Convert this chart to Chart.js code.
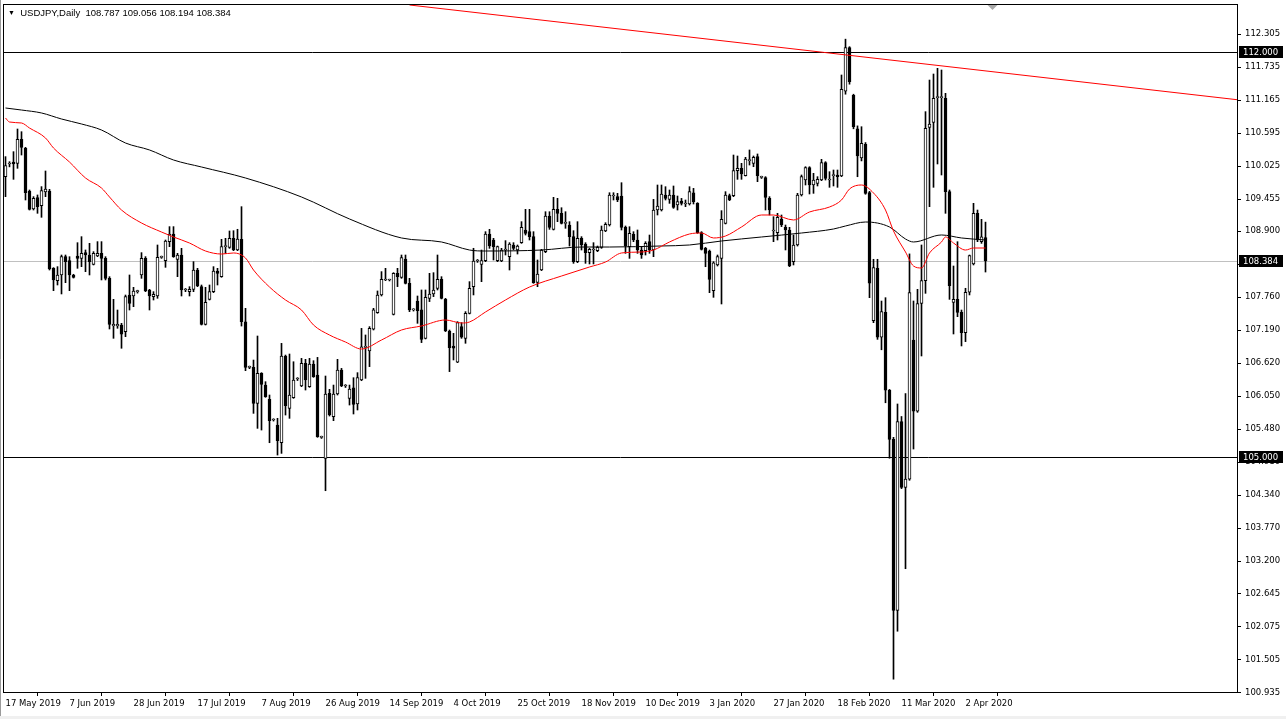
<!DOCTYPE html>
<html>
<head>
<meta charset="utf-8">
<title>USDJPY Daily</title>
<script src="https://cdn.jsdelivr.net/npm/chart.js@4.4.1/dist/chart.umd.min.js"></script>
<style>
  html, body { margin: 0; padding: 0; background: #fff; overflow: hidden; }
  #wrap { position: relative; width: 1286px; height: 719px; }
  #symbol { position: absolute; left: 8px; top: 7px; font: 9.5px "Liberation Sans", Arial, sans-serif; color: #000; white-space: pre; }
  #symbol .tri { font-size: 7px; position: relative; top: -1px; }
</style>
</head>
<body>
<div id="wrap">
  <canvas id="priceChart"></canvas>
  <div id="symbol"><span class="tri">▼</span>  USDJPY,Daily  108.787 109.056 108.194 108.384</div>
</div>
<script>
// Daily candles (bar 0 = 17 May 2019)
const openPrices = [
  109.841,110.060,110.094,110.071,110.486,110.331,109.594,109.283,109.478,109.340,
  109.576,109.594,108.258,108.045,108.143,108.459,108.390,108.143,108.471,108.431,
  108.529,108.488,108.327,108.471,108.517,108.431,108.085,107.262,107.262,107.279,
  107.164,107.797,107.780,107.855,108.143,108.431,107.884,107.769,107.780,108.448,
  108.390,108.718,108.851,108.413,108.488,107.884,107.855,107.895,108.229,107.941,
  107.291,107.723,107.855,108.212,108.114,108.632,108.620,108.776,108.575,108.759,
  107.336,106.548,106.548,105.926,106.444,106.242,105.995,105.638,105.552,105.247,
  106.743,105.839,106.024,106.346,106.225,106.617,106.214,106.605,106.415,105.339,
  104.976,106.099,105.696,106.087,106.502,106.225,106.012,106.196,105.914,106.329,
  106.894,106.831,107.205,107.493,107.798,108.057,108.057,107.464,108.172,108.103,
  108.419,107.999,107.539,107.694,107.539,107.049,107.740,107.815,107.913,108.068,
  107.723,107.176,106.917,106.635,107.251,107.049,107.481,107.942,108.385,108.326,
  108.390,108.851,108.747,108.390,108.384,108.574,108.459,108.661,108.574,108.701,
  108.920,108.891,108.805,108.016,108.229,108.546,109.162,108.931,109.277,109.208,
  109.035,109.006,108.805,108.373,108.776,108.678,108.528,108.574,108.563,108.620,
  108.902,109.006,109.507,109.495,109.507,108.966,108.632,108.845,108.747,108.574,
  108.563,108.718,108.574,109.265,109.265,109.524,109.449,109.524,109.351,109.420,
  109.369,109.369,109.564,109.380,108.874,108.603,108.557,107.872,108.315,108.430,
  109.035,109.513,109.513,109.944,109.985,109.858,110.117,110.071,110.186,109.829,
  109.824,109.467,108.903,108.874,109.110,108.966,108.920,108.373,108.661,109.524,
  109.783,109.996,109.697,109.726,109.783,110.083,109.783,109.858,109.870,109.852,
  111.316,112.072,111.244,110.668,110.164,110.401,109.566,107.355,108.256,107.067,
  107.499,106.152,105.303,102.350,105.612,104.474,104.618,107.017,105.792,107.653,
  108.045,110.693,110.779,111.205,111.205,111.194,109.582,107.671,107.722,107.498,
  107.147,107.844,108.333,109.208,108.718,108.787
];
const highPrices = [
  110.187,110.100,110.273,110.664,110.618,110.348,109.611,109.496,109.525,109.669,
  109.939,109.622,108.270,108.287,108.488,108.488,108.459,108.155,108.701,108.805,
  108.575,108.690,108.546,108.719,108.719,108.459,108.114,107.723,107.538,107.308,
  107.797,108.143,107.930,107.880,108.529,108.460,107.895,107.855,108.661,108.470,
  108.747,108.978,108.978,108.517,108.603,107.910,107.941,108.373,108.258,107.970,
  107.930,107.970,108.287,108.258,108.759,108.776,108.903,108.908,108.932,109.323,
  107.567,106.570,106.674,107.089,106.456,106.300,106.070,105.660,105.667,106.962,
  106.760,106.778,106.645,106.370,106.703,106.686,106.703,106.663,106.720,105.360,
  106.398,106.168,106.242,106.686,106.530,106.250,106.242,106.369,106.456,107.221,
  107.107,107.251,107.567,107.867,108.201,108.258,108.070,108.183,108.258,108.488,
  108.488,108.085,107.560,107.780,107.884,107.884,108.172,108.183,108.488,108.114,
  107.740,107.193,107.135,107.337,107.320,107.510,108.028,108.604,108.410,108.574,
  108.891,108.931,108.776,108.643,108.603,108.736,108.701,108.701,108.661,109.064,
  109.277,109.277,108.891,108.402,108.586,109.236,109.236,109.484,109.467,109.305,
  109.236,109.064,108.908,109.064,108.805,108.701,108.603,108.701,108.643,108.989,
  109.046,109.564,109.564,109.553,109.737,108.989,108.977,108.891,108.920,108.632,
  108.718,108.833,109.449,109.697,109.697,109.668,109.611,109.680,109.507,109.466,
  109.438,109.668,109.639,109.392,108.891,108.620,108.574,108.373,108.488,109.254,
  109.582,109.541,110.215,110.198,110.071,110.175,110.302,110.198,110.233,109.850,
  109.841,109.496,109.150,109.208,109.179,109.006,108.966,108.834,109.553,109.870,
  110.013,110.013,109.899,109.841,110.140,110.100,109.927,109.956,109.956,111.597,
  112.216,112.086,111.265,110.718,110.704,110.430,109.587,108.414,108.414,107.693,
  107.751,106.167,105.339,105.915,105.699,106.095,108.507,107.694,107.895,108.661,
  110.964,111.510,111.614,111.712,111.683,111.280,109.611,108.298,108.718,107.538,
  107.913,108.488,109.381,109.265,109.104,109.056
];
const lowPrices = [
  109.496,110.010,109.795,109.985,110.215,109.438,109.265,109.265,109.208,109.139,
  109.496,108.229,107.872,107.970,107.815,108.010,107.872,108.090,108.258,108.287,
  108.200,108.143,108.316,108.459,108.057,108.057,107.210,107.049,107.222,106.877,
  107.078,107.538,107.596,107.830,108.085,107.855,107.538,107.711,107.740,108.430,
  108.275,108.632,108.448,108.114,107.780,107.855,107.780,107.855,107.941,107.279,
  107.279,107.711,107.838,107.970,108.103,108.517,108.603,108.563,108.563,107.261,
  106.490,106.525,105.753,105.494,105.465,106.030,105.246,105.620,105.033,105.062,
  105.724,105.667,106.012,106.320,106.214,106.156,106.202,106.375,105.339,105.320,
  104.417,105.707,105.627,106.070,106.214,106.200,105.897,105.742,105.811,106.317,
  106.358,106.560,107.193,107.481,107.780,108.045,108.040,107.452,107.942,108.085,
  107.988,107.510,107.520,107.308,106.975,107.038,107.683,107.769,107.884,107.729,
  107.165,106.474,106.675,106.629,107.049,106.963,107.470,107.798,108.360,108.027,
  108.373,108.603,108.402,108.373,108.373,108.488,108.229,108.574,108.505,108.689,
  108.833,108.747,107.999,107.941,108.218,108.528,108.931,108.920,109.064,109.024,
  108.949,108.643,108.344,108.356,108.574,108.344,108.333,108.333,108.546,108.603,
  108.891,108.989,109.438,109.409,108.920,108.517,108.430,108.718,108.517,108.430,
  108.488,108.517,108.459,109.179,109.248,109.438,109.380,109.294,109.265,109.351,
  109.323,109.351,109.369,108.862,108.574,108.286,107.837,107.757,108.298,107.642,
  109.024,109.426,109.496,109.795,109.795,109.852,110.042,110.013,109.755,109.810,
  109.265,109.179,108.718,108.747,108.978,108.575,108.287,108.316,108.643,109.507,
  109.697,109.542,109.553,109.680,109.772,109.783,109.657,109.680,109.657,109.841,
  111.265,111.438,110.668,109.840,110.113,109.537,107.751,107.319,107.031,106.851,
  105.936,104.978,101.162,101.990,104.453,103.070,104.597,105.137,105.771,106.744,
  107.826,109.323,109.657,110.060,109.870,109.208,107.722,107.124,107.423,106.917,
  106.992,107.798,108.316,108.718,108.689,108.194
];
const closePrices = [
  110.031,110.060,110.060,110.486,110.348,109.565,109.277,109.467,109.323,109.599,
  109.628,108.247,108.057,108.143,108.459,108.373,108.143,108.103,108.431,108.517,
  108.488,108.373,108.517,108.517,108.431,108.085,107.291,107.291,107.291,107.120,
  107.769,107.653,107.867,107.855,108.431,107.867,107.780,107.809,108.448,108.448,
  108.730,108.851,108.460,108.488,107.884,107.884,107.895,108.229,107.953,107.291,
  107.671,107.855,108.212,108.172,108.632,108.632,108.776,108.575,108.765,107.336,
  106.548,106.548,105.926,106.444,106.254,106.041,105.626,105.638,105.281,106.743,
  105.885,106.070,106.329,106.346,106.617,106.329,106.605,106.386,105.350,105.339,
  106.087,105.724,106.087,106.502,106.225,106.225,106.173,105.909,106.369,106.904,
  106.894,107.222,107.539,107.798,108.068,108.057,108.057,108.172,108.114,108.442,
  107.999,107.539,107.539,107.527,107.032,107.757,107.815,107.884,108.068,107.740,
  107.176,106.888,106.877,107.320,107.067,107.481,107.913,108.385,108.385,108.390,
  108.851,108.643,108.632,108.632,108.574,108.574,108.678,108.603,108.643,108.966,
  108.862,108.805,108.010,108.160,108.574,109.162,108.966,109.277,109.208,109.035,
  109.035,108.805,108.373,108.776,108.661,108.528,108.586,108.574,108.620,108.920,
  109.017,109.524,109.507,109.438,108.966,108.643,108.862,108.747,108.574,108.488,
  108.689,108.574,109.265,109.334,109.541,109.467,109.524,109.311,109.409,109.380,
  109.369,109.582,109.409,108.874,108.586,108.517,108.068,108.355,108.459,109.104,
  109.524,109.438,109.944,109.985,109.887,110.146,110.117,110.175,109.858,109.829,
  109.484,109.265,108.903,109.139,109.006,108.920,108.298,108.661,109.524,109.841,
  109.996,109.697,109.783,109.795,110.083,109.812,109.783,109.858,109.841,111.349,
  112.072,111.481,110.704,110.200,110.416,109.551,108.003,108.270,107.067,107.513,
  106.152,105.303,102.350,105.612,104.474,104.618,107.837,105.792,107.648,108.045,
  110.676,110.751,111.194,111.205,111.205,109.582,107.958,107.722,107.498,107.147,
  107.844,108.477,109.208,108.747,108.804,108.384
];

// Moving averages, sampled along the drawn curves (bar index, price)
const ma50Idx = [0,1,4,6,10,12,16,20,24,26,29,34,39,42,46,50,54,57,60,62,66,70,74,77,81,85,89,94,99,104,
  110,114,116,120,125,131,139,146,150,154,159,162,166,171,174,177,180,184,189,192,197,201,206,209,211,214,
  217,220,222,225,227,229,231,234,235,237,240,242,245];
const ma50Vals = [110.854,110.785,110.768,110.681,110.509,110.336,110.094,109.818,109.645,109.490,
  109.265,109.041,108.885,108.799,108.695,108.557,108.505,108.523,108.436,108.229,
  107.935,107.711,107.538,107.279,107.106,106.985,106.864,107.020,107.193,107.262,
  107.366,107.314,107.331,107.504,107.711,107.935,108.125,108.281,108.367,108.523,
  108.540,108.574,108.713,108.851,108.868,108.782,108.816,108.972,109.179,109.179,
  109.093,109.231,109.317,109.438,109.628,109.697,109.559,109.265,108.903,108.540,
  108.298,108.264,108.523,108.713,108.799,108.695,108.574,108.609,108.609];
const ma200Idx = [0,4,9,14,19,24,30,36,42,49,60,74,86,99,109,116,120,134,144,151,
  164,171,179,189,199,207,210,215,221,225,227,234,239,245];
const ma200Vals = [111.027,110.992,110.941,110.837,110.751,110.647,110.422,110.302,110.129,110.008,
  109.818,109.490,109.110,108.782,108.713,108.574,108.557,108.574,108.626,108.626,
  108.644,108.661,108.730,108.799,108.868,108.937,108.989,109.058,108.972,108.764,
  108.713,108.834,108.782,108.747];

// Hand-drawn objects
const trendIdx = [101, 307.9];
const trendVals = [112.806, 111.170];
const keyLevels = [112.000, 105.000];
const lastPrice = 108.384;

// Axis labels
const dateIdx = [0,16,32,48,64,80,96,112,128,144,160,176,192,208,224,240];
const dateText = ['17 May 2019','7 Jun 2019','28 Jun 2019','17 Jul 2019','7 Aug 2019','26 Aug 2019',
  '14 Sep 2019','4 Oct 2019','25 Oct 2019','18 Nov 2019','10 Dec 2019','3 Jan 2020',
  '27 Jan 2020','18 Feb 2020','11 Mar 2020','2 Apr 2020'];
const priceTicks = [112.305,111.735,111.165,110.595,110.025,109.455,108.900,108.330,107.760,107.190,
  106.620,106.050,105.480,104.910,104.340,103.770,103.200,102.645,102.075,101.505,100.935];

const axisFont = { family: 'DejaVu Sans', size: 8.5 };

// Build datasets from the arrays above
const wickData = closePrices.map((c, i) => ({ x: i, y: [lowPrices[i], highPrices[i]] }));
const bodyData = closePrices.map((c, i) => ({ x: i, y: [openPrices[i], c] }));
const bodyFill = closePrices.map((c, i) => c >= openPrices[i] ? '#ffffff' : '#000000');
const toPoints = (xs, ys) => xs.map((x, k) => ({ x: x, y: ys[k] }));

// MT4-style extras: level lines, frame, axis price boxes
const mtOverlay = {
  id: 'mtOverlay',
  beforeDatasetsDraw(chart) {
    const { ctx, chartArea: a, scales: { y } } = chart;
    ctx.save();
    ctx.lineWidth = 1;
    const hline = (v, color) => {
      const py = Math.round(y.getPixelForValue(v)) + 0.5;
      ctx.strokeStyle = color;
      ctx.beginPath();
      ctx.moveTo(a.left, py);
      ctx.lineTo(a.right, py);
      ctx.stroke();
    };
    hline(lastPrice, '#c0c0c0');
    keyLevels.forEach(v => hline(v, '#000000'));
    ctx.restore();
  },
  afterDraw(chart) {
    const { ctx, chartArea: a, scales: { x, y } } = chart;
    ctx.save();
    // plot frame
    ctx.strokeStyle = '#000';
    ctx.lineWidth = 1;
    ctx.strokeRect(a.left - 0.5, a.top - 0.5, a.right - a.left + 1, a.bottom - a.top + 1);
    // window edges
    ctx.strokeStyle = '#9a9a9a';
    ctx.beginPath();
    ctx.moveTo(0.5, 0); ctx.lineTo(0.5, chart.height);
    ctx.stroke();
    ctx.fillStyle = '#f0f0f0';
    ctx.fillRect(0, chart.height - 3, chart.width, 3);
    // price boxes on the axis
    ctx.font = '8.5px "DejaVu Sans"';
    ctx.textBaseline = 'middle';
    ctx.textAlign = 'left';
    keyLevels.concat([lastPrice]).forEach(v => {
      const py = Math.round(y.getPixelForValue(v));
      ctx.fillStyle = '#000';
      ctx.fillRect(a.right + 2, py - 6, 44, 12);
      ctx.fillStyle = '#fff';
      ctx.fillText(v.toFixed(3), a.right + 6, py + 0.5);
    });
    // chart shift marker
    const sx = Math.round(x.getPixelForValue(closePrices.length + 0.6)) + 0.5;
    ctx.fillStyle = '#a8a8a8';
    ctx.beginPath();
    ctx.moveTo(sx - 5, a.top);
    ctx.lineTo(sx + 5, a.top);
    ctx.lineTo(sx, a.top + 5);
    ctx.closePath();
    ctx.fill();
    ctx.restore();
  }
};

new Chart(document.getElementById('priceChart'), {
  type: 'bar',
  data: {
    datasets: [
      {
        type: 'line', label: 'Trend', data: toPoints(trendIdx, trendVals),
        borderColor: '#ff0000', borderWidth: 1, pointRadius: 0, order: -2
      },
      {
        type: 'line', label: 'MA 50', data: toPoints(ma50Idx, ma50Vals),
        borderColor: '#ff0000', borderWidth: 1, pointRadius: 0,
        cubicInterpolationMode: 'monotone', order: -1
      },
      {
        type: 'line', label: 'MA 200', data: toPoints(ma200Idx, ma200Vals),
        borderColor: '#000000', borderWidth: 1, pointRadius: 0,
        cubicInterpolationMode: 'monotone', order: -1
      },
      {
        label: 'Bodies', data: bodyData, backgroundColor: bodyFill,
        borderColor: '#000', borderWidth: 1, borderSkipped: false,
        barThickness: 3, minBarLength: 1, grouped: false, order: 0
      },
      {
        label: 'Wicks', data: wickData, backgroundColor: '#000',
        borderWidth: 0, barThickness: 1, grouped: false, order: 1
      }
    ]
  },
  options: {
    responsive: true,
    maintainAspectRatio: false,
    animation: false,
    devicePixelRatio: 1,
    layout: { padding: { left: 4, top: 5, right: 0, bottom: 0 }, autoPadding: false },
    plugins: { legend: { display: false }, tooltip: { enabled: false } },
    scales: {
      x: {
        type: 'linear', position: 'bottom', min: -0.375, max: 307.875, offset: false,
        grid: { drawOnChartArea: false, drawTicks: true, tickLength: 4, color: '#000' },
        border: { display: false },
        ticks: {
          autoSkip: false, maxRotation: 0, align: 'start', padding: 3,
          color: '#000', font: axisFont,
          callback: v => dateText[dateIdx.indexOf(v)]
        },
        afterBuildTicks: s => { s.ticks = dateIdx.map(v => ({ value: v })); },
        afterFit: s => { s.height = 27; s.paddingLeft = 0; s.paddingRight = 0; }
      },
      y: {
        type: 'linear', position: 'right', min: 100.9406, max: 112.8059,
        grid: { drawOnChartArea: false, drawTicks: true, tickLength: 4, color: '#000' },
        border: { display: false },
        ticks: { padding: 4, color: '#000', font: axisFont, callback: v => v.toFixed(3) },
        afterBuildTicks: s => { s.ticks = priceTicks.map(v => ({ value: v })); },
        afterFit: s => { s.width = 49; s.paddingTop = 0; s.paddingBottom = 0; }
      }
    }
  },
  plugins: [mtOverlay]
});
</script>
</body>
</html>
